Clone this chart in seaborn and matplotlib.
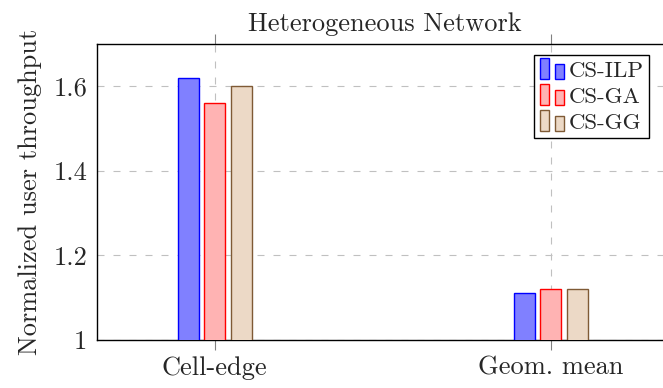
import matplotlib
matplotlib.use("Agg")
import matplotlib.pyplot as plt
from matplotlib.legend_handler import HandlerBase
from matplotlib.patches import Rectangle
import pandas as pd
import seaborn as sns

# Data
categories = ["Cell-edge", "Geom. mean"]
schemes = ["CS-ILP", "CS-GA", "CS-GG"]
cs_ilp = [1.62, 1.11]
cs_ga = [1.56, 1.12]
cs_gg = [1.60, 1.12]
ytick_values = [1.0, 1.2, 1.4, 1.6]
ytick_labels = ["1", "1.2", "1.4", "1.6"]

fills = {"CS-ILP": "#8080ff", "CS-GA": "#ffb3b3", "CS-GG": "#ecd9c6"}
edges = {"CS-ILP": "#0000ff", "CS-GA": "#ff0000", "CS-GG": "#7f5a35"}

rows = []
for name, vals in zip(schemes, [cs_ilp, cs_ga, cs_gg]):
    for cat, v in zip(categories, vals):
        rows.append({"category": cat, "scheme": name, "value": v})
df = pd.DataFrame(rows)

sns.set_theme(style="white")
plt.rcParams["font.family"] = ["cmr10", "DejaVu Serif"]
plt.rcParams["axes.formatter.use_mathtext"] = True

FS = 19

fig = plt.figure(figsize=(6.63, 3.88), dpi=100)
ax = fig.add_axes([97 / 663, 48 / 388, 575 / 663, 296 / 388])

sns.barplot(data=df, x="category", y="value", hue="scheme",
            order=categories, hue_order=schemes, palette=fills,
            saturation=1, width=0.237, gap=0.21, errorbar=None,
            linewidth=1.0, ax=ax, zorder=3)

for name, cont in zip(schemes, ax.containers):
    for p in cont:
        p.set_edgecolor(edges[name])
        p.set_linewidth(1.0)
        p.set_zorder(3)

ax.set_xlim(-0.35, 1.361)
ax.set_ylim(1.0, 1.7)
ax.set_yticks(ytick_values)
ax.set_yticklabels(ytick_labels)
ax.set_xlabel("")
ax.set_ylabel("Normalized user throughput", fontsize=FS, labelpad=8)
ax.set_title("Heterogeneous Network", fontsize=FS, pad=9)

for s in ax.spines.values():
    s.set_color("black")
    s.set_linewidth(1.0)

ax.grid(True, axis="both", color="#c0c0c0", linewidth=0.8,
        linestyle=(0, (6.3, 8.1)), zorder=0)
ax.set_axisbelow(True)
ax.tick_params(axis="x", direction="out", length=7.5, width=0.8,
               color="#808080", top=True, bottom=True, labelsize=FS, pad=4)
ax.tick_params(axis="y", length=0, labelsize=FS, pad=7)


class TwoBarHandler(HandlerBase):
    """Legend key drawn as two small bars, the first taller than the second."""

    def create_artists(self, legend, orig_handle, xdescent, ydescent,
                       width, height, fontsize, trans):
        fc = orig_handle.get_facecolor()
        ec = orig_handle.get_edgecolor()
        bw = width * 0.37
        base = -ydescent - 0.15 * height
        r1 = Rectangle((-xdescent, base), bw, height * 1.3,
                       facecolor=fc, edgecolor=ec, linewidth=1.0, transform=trans)
        r2 = Rectangle((-xdescent + width - bw, base), bw, height * 0.95,
                       facecolor=fc, edgecolor=ec, linewidth=1.0,
                       transform=trans)
        return [r1, r2]


handles = [Rectangle((0, 0), 1, 1, facecolor=fills[n], edgecolor=edges[n])
           for n in schemes]
leg = ax.legend(handles, schemes, loc="upper right",
                bbox_to_anchor=(552 / 575, 0.963), borderaxespad=0,
                fontsize=16.5, frameon=True, fancybox=False, framealpha=1,
                edgecolor="black", handlelength=1.05, handletextpad=0.18,
                labelspacing=0.26, borderpad=0.25,
                handler_map={Rectangle: TwoBarHandler()})
leg.get_frame().set_linewidth(1.0)

fig.savefig("out.png", dpi=100)
